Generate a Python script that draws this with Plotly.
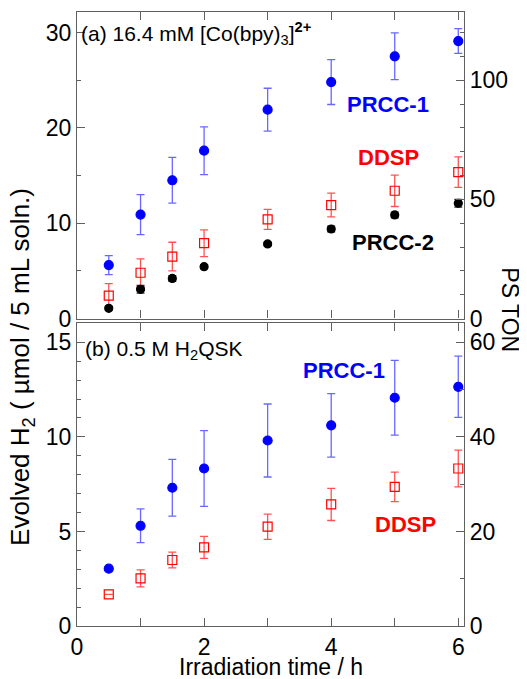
import plotly.graph_objects as go

# irradiation time (h)
time = [0.5, 1, 1.5, 2, 3, 4, 5, 6]

# (a) 16.4 mM [Co(bpy)3]2+
a_prcc1 = [5.6, 10.9, 14.5, 17.6, 21.9, 24.8, 27.5, 29.1]
a_prcc1_err = [1.0, 2.1, 2.4, 2.5, 2.25, 2.35, 2.45, 1.3]
a_ddsp = [2.4, 4.8, 6.5, 7.9, 10.4, 11.9, 13.4, 15.35]
a_ddsp_err = [1.25, 1.45, 1.5, 1.4, 1.05, 1.25, 1.65, 1.6]
a_prcc2 = [1.07, 3.06, 4.2, 5.44, 7.82, 9.39, 10.86, 12.09]
a_prcc2_err = [0.2, 0.4, 0.3, 0.2, 0.2, 0.3, 0.3, 0.4]

# (b) 0.5 M H2QSK
b_prcc1 = [3.03, 5.3, 7.31, 8.33, 9.81, 10.61, 12.07, 12.65]
b_prcc1_err = [0.1, 0.89, 1.5, 2.0, 1.93, 1.68, 1.98, 1.62]
b_ddsp = [1.67, 2.52, 3.49, 4.16, 5.25, 6.43, 7.36, 8.33]
b_ddsp_err = [0.0, 0.45, 0.42, 0.58, 0.67, 0.85, 0.78, 0.97]

FONT = "Arial, Liberation Sans, sans-serif"
AXC = "#606060"
BLUE = "#0000ff"
RED = "#ff0000"

fig = go.Figure()


def add_series(y, err, xa, ya, color, symbol, size, ecolor):
    fig.add_trace(go.Scatter(
        x=time, y=y, mode="markers", xaxis=xa, yaxis=ya, showlegend=False,
        marker=dict(color=color, symbol=symbol, size=size, line=dict(color=color, width=1.2)),
        error_y=dict(type="data", array=err, color=ecolor, thickness=1.3, width=4),
    ))


add_series(a_ddsp, a_ddsp_err, "x2", "y", RED, "square-open", 9, "rgba(255,40,40,0.8)")
add_series(a_prcc2, a_prcc2_err, "x2", "y", "black", "circle", 8, "#333333")
add_series(a_prcc1, a_prcc1_err, "x2", "y", BLUE, "circle", 9, "rgba(40,40,255,0.7)")
add_series(b_ddsp, b_ddsp_err, "x", "y3", RED, "square-open", 9, "rgba(255,40,40,0.8)")
add_series(b_prcc1, b_prcc1_err, "x", "y3", BLUE, "circle", 9, "rgba(40,40,255,0.7)")

# empty traces so the right-hand TON axes get drawn
for xa, ya in [("x2", "y2"), ("x", "y4")]:
    fig.add_trace(go.Scatter(x=[None], y=[None], xaxis=xa, yaxis=ya, showlegend=False,
                             hoverinfo="skip"))

axis_common = dict(showline=True, linecolor=AXC, linewidth=1.3, ticks="inside", ticklen=8,
                   tickcolor=AXC, tickwidth=1.2, showgrid=False, zeroline=False,
                   automargin=False, fixedrange=True,
                   tickfont=dict(family=FONT, size=23, color="black"))

top_dom = [0.5008, 1.0]
bot_dom = [0.0, 0.494]

# page body has an 8px margin, so the figure is 8px smaller than the window
fig.update_layout(
    template="none",
    width=519, height=671,
    margin=dict(l=69, r=63, t=4, b=53),
    paper_bgcolor="white", plot_bgcolor="white",
    xaxis=dict(domain=[0, 1], anchor="y3", range=[0, 6.09], dtick=2, mirror="ticks",
               minor=dict(dtick=1, ticks="inside", ticklen=8, tickcolor=AXC), **axis_common),
    xaxis2=dict(domain=[0, 1], anchor="y", range=[0, 6.09], dtick=2, mirror="ticks",
                showticklabels=False,
                minor=dict(dtick=1, ticks="inside", ticklen=8, tickcolor=AXC), **axis_common),
    yaxis=dict(domain=top_dom, anchor="x2", range=[0, 32.15], dtick=10,
               minor=dict(dtick=5, ticks="inside", ticklen=4, tickcolor=AXC), **axis_common),
    yaxis2=dict(overlaying="y", anchor="x2", side="right", range=[0, 128.6], dtick=50,
                minor=dict(dtick=10, ticks="inside", ticklen=4, tickcolor=AXC), **axis_common),
    yaxis3=dict(domain=bot_dom, anchor="x", range=[0, 16.04], dtick=5,
                minor=dict(dtick=1, ticks="inside", ticklen=4, tickcolor=AXC), **axis_common),
    yaxis4=dict(overlaying="y3", anchor="x", side="right", range=[0, 64.16], dtick=20,
                minor=dict(dtick=10, ticks="inside", ticklen=4, tickcolor=AXC), **axis_common),
)

bold = dict(family=FONT, size=22)
notes = [
    dict(x=0.03, y=29.85, xref="x2", yref="y", xanchor="left",
         text="(a) 16.4 mM [Co(bpy)<sub>3</sub>]<sup><b>2+</b></sup>", font=dict(family=FONT, size=21, color="black")),
    dict(x=4.9, y=22.5, xref="x2", yref="y", text="<b>PRCC-1</b>", font=dict(color=BLUE, **bold)),
    dict(x=4.9, y=16.9, xref="x2", yref="y", text="<b>DDSP</b>", font=dict(color=RED, **bold)),
    dict(x=4.98, y=7.97, xref="x2", yref="y", text="<b>PRCC-2</b>", font=dict(color="black", **bold)),
    dict(x=0.1, y=14.6, xref="x", yref="y3", xanchor="left",
         text="(b) 0.5 M H<sub>2</sub>QSK", font=dict(family=FONT, size=21, color="black")),
    dict(x=4.2, y=13.5, xref="x", yref="y3", text="<b>PRCC-1</b>", font=dict(color=BLUE, **bold)),
    dict(x=5.17, y=5.39, xref="x", yref="y3", text="<b>DDSP</b>", font=dict(color=RED, **bold)),
    dict(x=-0.142, y=0.422, xref="paper", yref="paper", xanchor="center", yanchor="middle",
         textangle=-90, text="Evolved H<sub>2</sub> ( µmol / 5 mL soln.)",
         font=dict(family=FONT, size=26, color="black")),
    dict(x=1.12, y=0.515, xref="paper", yref="paper", xanchor="center", yanchor="middle",
         textangle=90, text="PS TON", font=dict(family=FONT, size=23, color="black")),
    dict(x=0.5, y=-0.0668, xref="paper", yref="paper", xanchor="center", yanchor="middle",
         text="Irradiation time / h", font=dict(family=FONT, size=23, color="black")),
]
for n in notes:
    fig.add_annotation(showarrow=False, **n)

fig.write_html("out.html")
